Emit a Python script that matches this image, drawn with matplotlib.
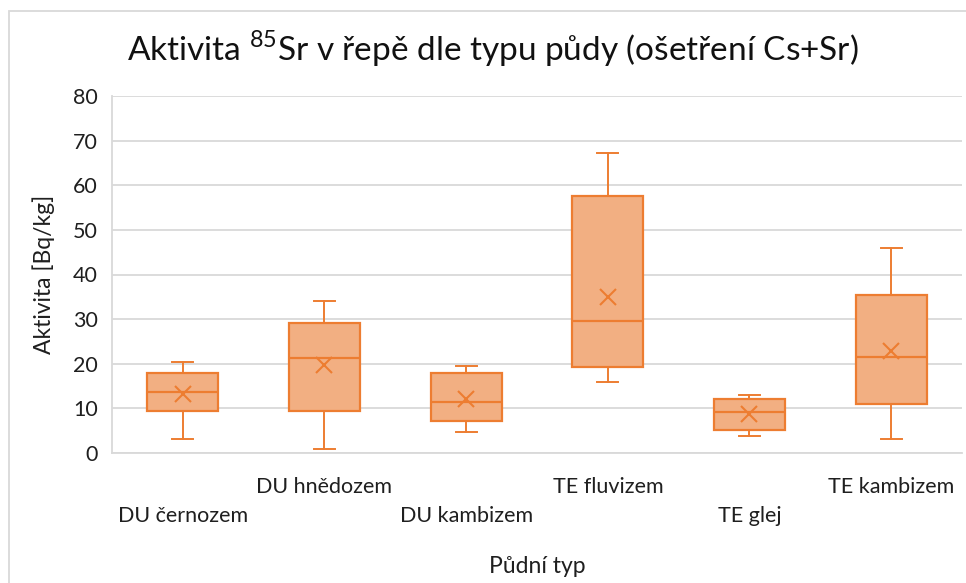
import matplotlib
matplotlib.use("Agg")
import matplotlib.pyplot as plt
from matplotlib.patches import Rectangle

plt.rcParams['font.family'] = ['Lato', 'DejaVu Sans']
plt.rcParams['mathtext.fontset'] = 'custom'
plt.rcParams['mathtext.rm'] = 'Lato'

# values
categories = ["DU černozem", "DU hnědozem", "DU kambizem",
              "TE fluvizem", "TE glej", "TE kambizem"]
whis_low = [3.1, 1.0, 4.6, 16.0, 3.7, 3.1]
q1 = [9.3, 9.3, 7.1, 19.2, 5.1, 10.9]
median = [13.7, 21.2, 11.4, 29.6, 9.1, 21.5]
q3 = [18.0, 29.2, 18.0, 57.7, 12.0, 35.5]
whis_high = [20.3, 34.1, 19.4, 67.2, 12.9, 45.9]
mean = [13.2, 19.8, 12.0, 34.9, 8.7, 22.8]

orange = '#ED7D31'
fill = '#F2AF82'
grid_col = '#D9D9D9'
text_col = '#1f1f1f'

stats = []
for i, name in enumerate(categories):
    stats.append({'label': name, 'whislo': whis_low[i], 'q1': q1[i], 'med': median[i],
                  'q3': q3[i], 'whishi': whis_high[i], 'mean': mean[i], 'fliers': []})

fig = plt.figure(figsize=(9.66, 5.83), dpi=100)
ax = fig.add_axes([112 / 966, 1 - 453 / 583, 850 / 966, 357 / 583])

ax.bxp(stats, positions=range(len(categories)), widths=0.5, capwidths=0.15,
       patch_artist=True, showmeans=True,
       boxprops=dict(facecolor=fill, edgecolor=orange, linewidth=1.6),
       medianprops=dict(color=orange, linewidth=1.6),
       whiskerprops=dict(color=orange, linewidth=1.4),
       capprops=dict(color=orange, linewidth=1.4),
       meanprops=dict(marker='x', markeredgecolor=orange, markersize=12,
                      markeredgewidth=1.5),
       zorder=3)

ax.set_xlim(-0.5, len(categories) - 0.5)
ax.set_ylim(0, 80)
ax.set_yticks(range(0, 81, 10))
ax.yaxis.grid(True, color=grid_col, linewidth=1.3)
ax.set_axisbelow(True)
for s in ['top', 'right']:
    ax.spines[s].set_visible(False)
for s in ['left', 'bottom']:
    ax.spines[s].set_color(grid_col)
    ax.spines[s].set_linewidth(1.3)

ax.tick_params(axis='both', length=0, labelsize=15.5, labelcolor=text_col)
ax.tick_params(axis='y', pad=10)
ax.set_xticks(range(len(categories)))
ax.set_xticklabels(categories)
# staggered category labels like in Excel
for i, tick in enumerate(ax.xaxis.get_major_ticks()):
    tick.set_pad(17 if i % 2 else 38)

ax.set_ylabel("Aktivita [Bq/kg]", fontsize=16.5, color=text_col, labelpad=13)
ax.set_xlabel("Půdní typ", fontsize=16.5, color=text_col, labelpad=22)
fig.text(0.51, 1 - 49 / 583, "Aktivita $^{\\mathregular{85}}$Sr v řepě dle typu půdy (ošetření Cs+Sr)",
         ha='center', va='center', fontsize=24, color='#111111')

# chart border
fig.patches.append(Rectangle((9 / 966, -0.1), 1.2, 1.1 - 11 / 583, transform=fig.transFigure,
                             fill=False, edgecolor=grid_col, linewidth=1.3))

fig.savefig("out.png", dpi=100)
